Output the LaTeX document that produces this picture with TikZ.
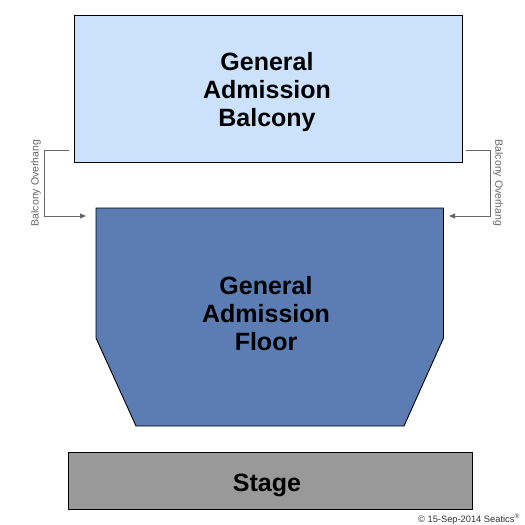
\documentclass[tikz,border=0pt]{standalone}
\usepackage{fontspec}
\setmainfont{Liberation Sans}
\usetikzlibrary{arrows.meta}
\definecolor{balc}{HTML}{CCE1FB}
\definecolor{floorc}{HTML}{5B7DB3}
\definecolor{stagec}{HTML}{999999}
\definecolor{linec}{HTML}{666666}
\tikzset{
  area/.style={draw=black, line width=0.9pt},
  big/.style={font=\fontsize{25}{28}\selectfont\bfseries, align=center, text=black},
  overhang/.style={font=\fontsize{10.5}{11}\selectfont, text=linec},
  conn/.style={draw=linec, line width=0.9pt, -{Triangle[length=6pt,width=5pt]}}
}
\begin{document}
\begin{tikzpicture}[x=1pt,y=-1pt]
\useasboundingbox (0,0) rectangle (525,525);
% balcony
\draw[area, fill=balc] (74.5,15) rectangle (462,162);
\node[big] (balcony) at (267,92) {General\\Admission\\Balcony};
% floor
\draw[area, fill=floorc] (96,208) -- (443.5,208) -- (443.5,338) -- (404,426) -- (136,426) -- (96,338) -- cycle;
\node[big] (floor) at (266,314) {General\\Admission\\Floor};
% stage
\draw[area, fill=stagec] (68,452) rectangle (472.5,509);
\node[big] (stage) at (267,485) {Stage};
% overhang connectors
\coordinate (l1) at (69,150);
\coordinate (l2) at (44,150);
\coordinate (l3) at (44,216);
\coordinate (l4) at (86,216);
\draw[conn] (l1) -- (l2) -- (l3) -- (l4);
\coordinate (r1) at (466,150);
\coordinate (r2) at (490,150);
\coordinate (r3) at (490,216);
\coordinate (r4) at (449,216);
\draw[conn] (r1) -- (r2) -- (r3) -- (r4);
\node[overhang, rotate=90] (lt) at (36,183) {Balcony Overhang};
\node[overhang, rotate=-90] (rt) at (498,183) {Balcony Overhang};
% copyright
\node[anchor=east, font=\fontsize{9.3}{10}\selectfont, text=black!80, inner sep=0pt] (copy) at (520,519) {© 15-Sep-2014 Seatics\textsuperscript{®}};
\end{tikzpicture}
\end{document}
